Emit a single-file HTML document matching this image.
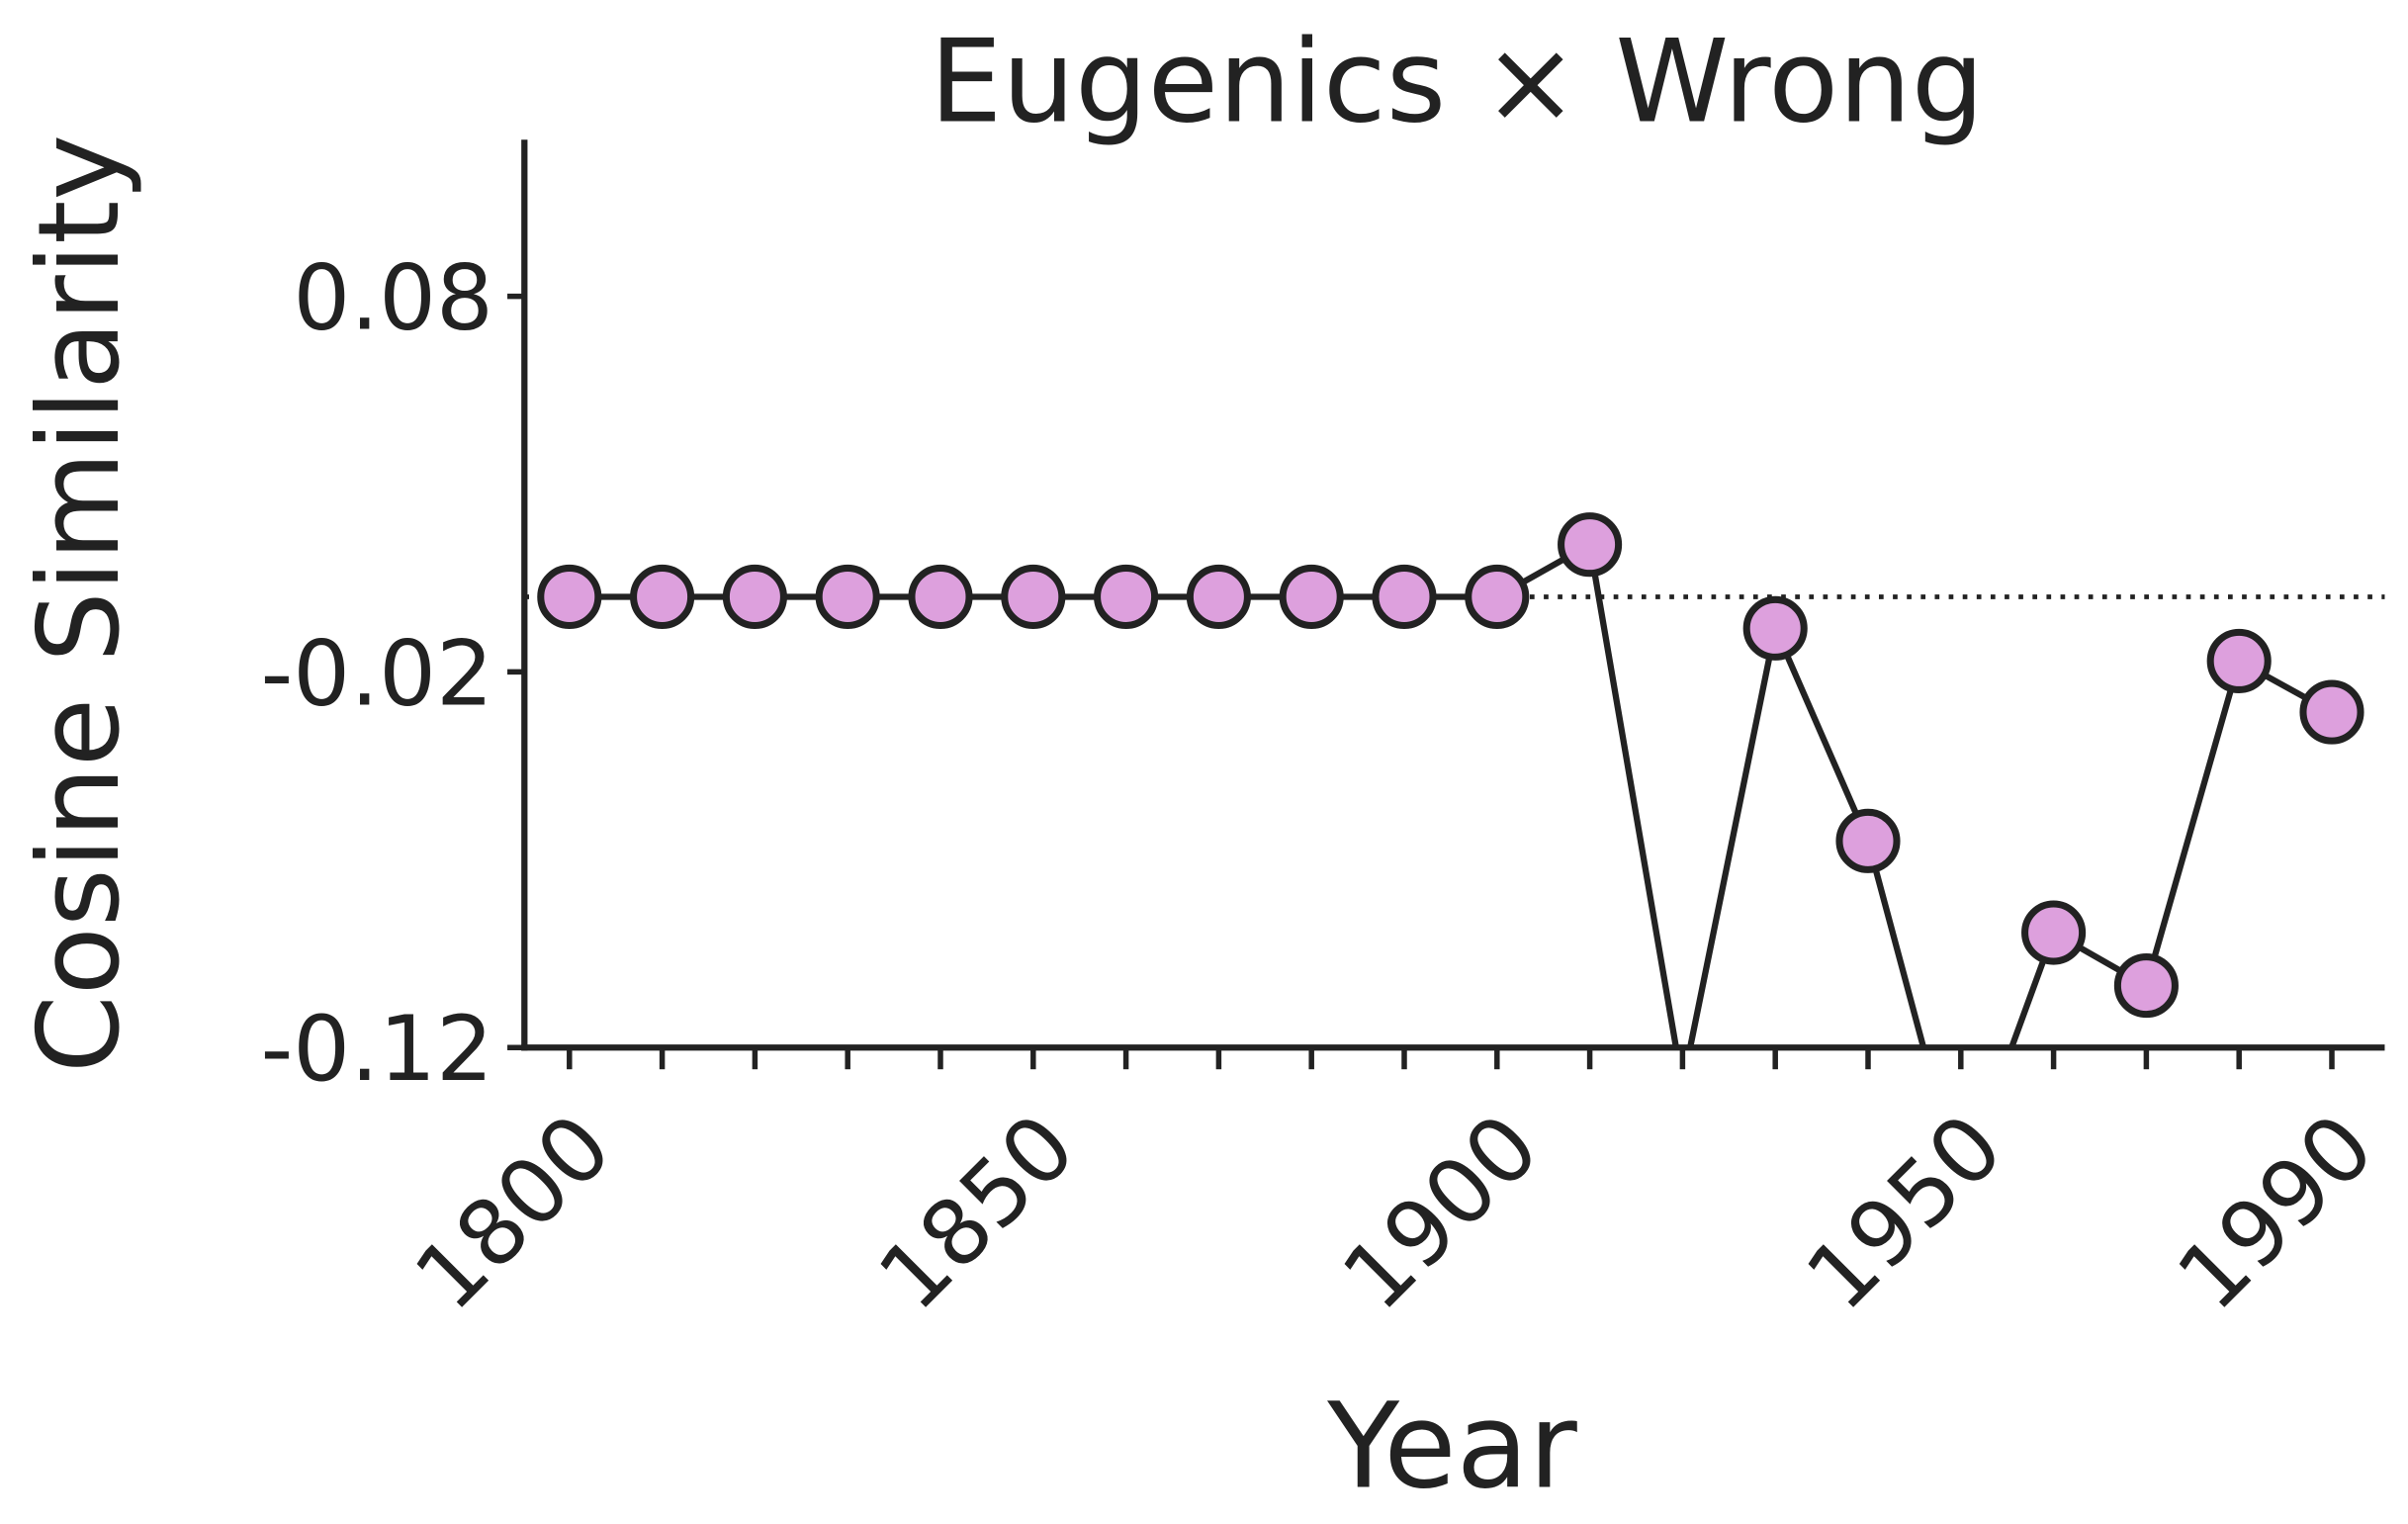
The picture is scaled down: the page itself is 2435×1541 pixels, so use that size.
<!DOCTYPE html>
<html><head><meta charset="utf-8"><style>
html,body{margin:0;padding:0;background:#fff;}
svg{display:block;font-family:"DejaVu Sans","Liberation Sans",sans-serif;}
</style></head><body>
<svg id="chart" width="2435" height="1541" viewBox="0 0 1552 982" preserveAspectRatio="none" xmlns="http://www.w3.org/2000/svg">
<defs><clipPath id="plotclip"><rect x="338" y="90" width="1200" height="585"/></clipPath></defs>
<text x="939" y="78" text-anchor="middle" font-size="74" fill="#222">Eugenics × Wrong</text>
<text transform="translate(76,389) rotate(-90)" text-anchor="middle" font-size="72" fill="#222">Cosine Similarity</text>
<text x="936" y="958" text-anchor="middle" font-size="76" fill="#222">Year</text>
<g id="grid"></g>
<g id="series" clip-path="url(#plotclip)"></g>
<g id="axes"></g>
</svg>
<script>
const years = [1800,1810,1820,1830,1840,1850,1860,1870,1880,1890,1900,1910,1920,1930,1940,1950,1960,1970,1980,1990];
const values = [0,0,0,0,0,0,0,0,0,0,0,0.0139,-0.13,-0.0084,-0.065,-0.157,-0.0894,-0.1035,-0.0171,-0.0307];
const yTicks = [0.08,-0.02,-0.12];
const yTickLabels = ["0.08","-0.02","-0.12"];
const xLabelYears = [1800,1850,1900,1950,1990];
const xLabels = ["1800","1850","1900","1950","1990"];

const NS="http://www.w3.org/2000/svg";
const L=338,R=1537,T=90,B=675;
const xMin=1795.15,xMax=1995.7,yMin=-0.12,yMax=0.1217;
const X=v=>L+(v-xMin)/(xMax-xMin)*(R-L);
const Y=v=>B-(v-yMin)/(yMax-yMin)*(B-T);
function mk(tag,attrs,parent){const e=document.createElementNS(NS,tag);for(const k in attrs)e.setAttribute(k,attrs[k]);parent.appendChild(e);return e;}
const series=document.getElementById('series'),axes=document.getElementById('axes'),grid=document.getElementById('grid');

const zl=mk('line',{x1:L,x2:R,y1:Y(0),y2:Y(0),stroke:'#222','stroke-width':3,'stroke-dasharray':'3 6'},grid);



const pl=mk('polyline',{points:years.map((y,i)=>X(y)+','+Y(values[i])).join(' '),fill:'none',stroke:'#222','stroke-width':4},series);


years.forEach((yr,i)=>{
  const c=mk('circle',{cx:X(yr),cy:Y(values[i]),r:18.5,fill:'#dda0dd',stroke:'#222','stroke-width':4.5},series);
  
  
});

const ya=mk('line',{x1:L,x2:L,y1:T,y2:B+2,stroke:'#222','stroke-width':4},axes);


const xa=mk('line',{x1:L-2,x2:R,y1:B,y2:B,stroke:'#222','stroke-width':4},axes);



yTicks.forEach((v,i)=>{
  const t=mk('line',{x1:L-11,x2:L,y1:Y(v),y2:Y(v),stroke:'#222','stroke-width':3.5},axes);
  
  
  const tx=mk('text',{x:L-20,y:Y(v)+21,'text-anchor':'end','font-size':58,fill:'#222'},axes);
  tx.textContent=yTickLabels[i];
  
  
});
years.forEach(yr=>{
  const t=mk('line',{x1:X(yr),x2:X(yr),y1:B,y2:B+14,stroke:'#222','stroke-width':3.5},axes);
  
  
});
xLabelYears.forEach((yr,i)=>{
  const x=X(yr)+30,y=B+68;
  const tx=mk('text',{x:x,y:y,'text-anchor':'end','font-size':58,fill:'#222',transform:'rotate(-45 '+x+' '+y+')'},axes);
  tx.textContent=xLabels[i];
  
  
});
</script>
</body></html>
